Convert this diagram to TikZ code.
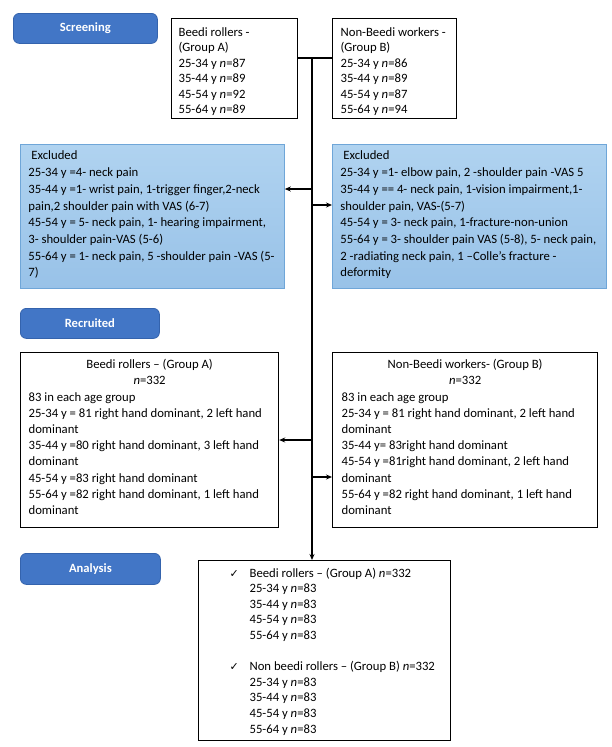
\documentclass[tikz,border=0pt]{standalone}
\usepackage{fontspec}
\setmainfont{Carlito}
\newfontfamily\symfont{DejaVu Sans}
\usetikzlibrary{arrows.meta}
\definecolor{pillblue}{HTML}{4276C6}
\definecolor{pillborder}{HTML}{3463AD}
\definecolor{extop}{HTML}{B0D3F0}
\definecolor{exbot}{HTML}{98C2E8}
\definecolor{exborder}{HTML}{6FA6D8}
% width, height, padx, padtop, baselineskip, content
\newcommand{\bxt}[6]{\parbox[c][#2][t]{#1}{\vspace*{#4}\fontsize{12.7}{#5}\selectfont\leftskip=#3\relax\rightskip=-30pt plus 1fil\relax\noindent\rule{0pt}{10pt}#6\par}}
\newcommand{\ctr}[1]{\makebox[\dimexpr\hsize-2\leftskip\relax][c]{#1}}
\newcommand{\ck}{\makebox[20pt][l]{\symfont\fontsize{11}{12}\selectfont ✓}}
\newcommand{\ind}{\hspace*{20pt}}
\tikzset{
  pill/.style={rounded corners=6pt, fill=pillblue, draw=pillborder, line width=0.8pt,
    text=white, font=\fontsize{12.6}{14}\selectfont\bfseries, inner sep=0pt, anchor=north west},
  wbox/.style={draw=black, line width=1.2pt, fill=white, anchor=north west, inner sep=0pt},
  bbox/.style={draw=exborder, line width=0.8pt, top color=extop, bottom color=exbot,
    anchor=north west, inner sep=0pt},
  conn/.style={line width=1.4pt},
  arr/.style={conn, -{Stealth[length=6pt,width=5pt]}},
}
\begin{document}
\begin{tikzpicture}[x=1pt,y=-1pt]
\path[use as bounding box] (0,0) rectangle (611,747);

% phase labels
\node[pill, minimum width=144pt, minimum height=30pt] (screen) at (13,13) {Screening};
\node[pill, minimum width=139pt, minimum height=30pt] (recr) at (20,308) {Recruited};
\node[pill, minimum width=140pt, minimum height=31pt] (anal) at (20,553) {Analysis};

% screening boxes
\node[wbox] (sa) at (171,18) {\bxt{126pt}{100pt}{7pt}{7.5pt}{15.5pt}{Beedi rollers -\\(Group A)\\25-34 y \textit{n}=87\\35-44 y \textit{n}=89\\45-54 y \textit{n}=92\\55-64 y \textit{n}=89}};
\node[wbox] (sb) at (332,18) {\bxt{124pt}{100pt}{8pt}{7.5pt}{15.5pt}{Non-Beedi workers -\\(Group B)\\25-34 y \textit{n}=86\\35-44 y \textit{n}=89\\45-54 y \textit{n}=87\\55-64 y \textit{n}=94}};

% excluded boxes
\node[bbox] (ea) at (20,144) {\bxt{264pt}{144pt}{8pt}{5.5pt}{16.7pt}{\hspace*{3pt}Excluded\\25-34 y =4- neck pain\\35-44 y =1- wrist pain, 1-trigger finger,2-neck\\pain,2 shoulder pain with VAS (6-7)\\45-54 y = 5- neck pain, 1- hearing impairment,\\3- shoulder pain-VAS (5-6)\\55-64 y = 1- neck pain, 5 -shoulder pain -VAS (5-\\7)}};
\node[bbox] (eb) at (332,144) {\bxt{274pt}{144pt}{8pt}{5.5pt}{16.7pt}{\hspace*{3pt}Excluded\\25-34 y =1- elbow pain, 2 -shoulder pain -VAS 5\\35-44 y == 4- neck pain, 1-vision impairment,1-\\shoulder pain, VAS-(5-7)\\45-54 y = 3- neck pain, 1-fracture-non-union\\55-64 y = 3- shoulder pain VAS (5-8), 5- neck pain,\\2 -radiating neck pain, 1 –Colle’s fracture -\\deformity}};

% recruited boxes
\node[wbox] (ra) at (20,352) {\bxt{258pt}{175pt}{8pt}{6pt}{16.2pt}{\ctr{Beedi rollers – (Group A)}\\\ctr{\textit{n}=332}\\83 in each age group\\25-34 y = 81 right hand dominant, 2 left hand\\dominant\\35-44 y =80 right hand dominant, 3 left hand\\dominant\\45-54 y =83 right hand dominant\\55-64 y =82 right hand dominant, 1 left hand\\dominant}};
\node[wbox] (rb) at (332,352) {\bxt{265pt}{175pt}{9pt}{6pt}{16.2pt}{\ctr{Non-Beedi workers- (Group B)}\\\ctr{\textit{n}=332}\\83 in each age group\\25-34 y = 81 right hand dominant, 2 left hand\\dominant\\35-44 y= 83right hand dominant\\45-54 y =81right hand dominant, 2 left hand\\dominant\\55-64 y =82 right hand dominant, 1 left hand\\dominant}};

% analysis box
\node[wbox] (an) at (198,560) {\bxt{252pt}{180pt}{31pt}{6.5pt}{15.6pt}{\ck Beedi rollers – (Group A) \textit{n}=332\\\ind 25-34 y \textit{n}=83\\\ind 35-44 y \textit{n}=83\\\ind 45-54 y \textit{n}=83\\\ind 55-64 y \textit{n}=83\\[15.6pt]\ck Non beedi rollers – (Group B) \textit{n}=332\\\ind 25-34 y \textit{n}=83\\\ind 35-44 y \textit{n}=83\\\ind 45-54 y \textit{n}=83\\\ind 55-64 y \textit{n}=83}};

% connectors
\coordinate (j) at (312,58);
\coordinate (t1) at (312,189);
\coordinate (t2) at (312,205);
\coordinate (t3) at (312,440);
\coordinate (t4) at (312,477);
\draw[conn] (sa.east |- j) -- (sb.west |- j);
\draw[arr] (j) -- (j |- an.north);
\draw[arr] (t1) -- (t1 -| ea.east);
\draw[arr] (t2) -- (t2 -| eb.west);
\draw[arr] (t3) -- (t3 -| ra.east);
\draw[arr] (t4) -- (t4 -| rb.west);
\end{tikzpicture}
\end{document}
